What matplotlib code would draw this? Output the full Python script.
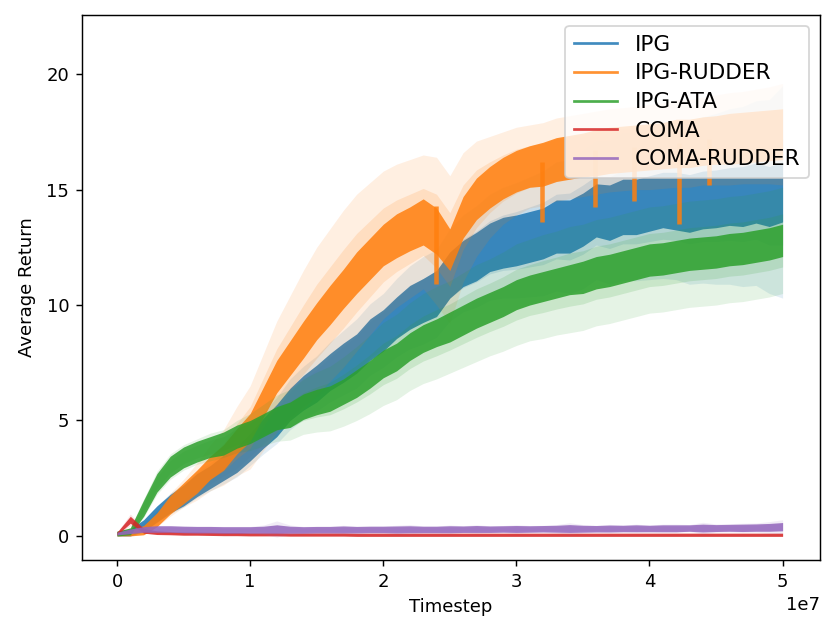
import numpy as np
import matplotlib
matplotlib.use("Agg")
import matplotlib.pyplot as plt
from matplotlib.lines import Line2D

# timesteps, one sample every 1e6 steps
steps = np.arange(51) * 1e6

labels = ["IPG", "IPG-RUDDER", "IPG-ATA", "COMA", "COMA-RUDDER"]
colors = ["tab:blue", "tab:orange", "tab:green", "tab:red", "tab:purple"]

# mean return
ipg = [0.10, 0.15, 0.45, 0.95, 1.40, 1.75, 2.20, 2.55, 2.95, 3.30,
       3.85, 4.45, 5.00, 5.70, 6.20, 6.60, 7.10, 7.50, 7.90, 8.50,
       8.90, 9.45, 9.90, 10.2, 10.5, 11.3, 11.8, 12.1, 12.5, 12.7,
       12.8, 12.95, 13.1, 13.4, 13.4, 13.7, 14.1, 14.0, 14.25, 14.25,
       14.4, 14.55, 14.5, 14.4, 14.55, 14.6, 14.7, 14.7, 14.85, 14.7,
       14.9]
ipg_rudder = [0.10, 0.12, 0.25, 0.70, 1.35, 1.85, 2.35, 2.95, 3.40, 4.10,
              4.70, 5.80, 6.90, 7.70, 8.50, 9.30, 10.0, 10.7, 11.4, 12.0,
              12.6, 13.0, 13.3, 13.6, 13.2, 12.4, 13.8, 14.6, 15.1, 15.5,
              15.8, 16.0, 16.1, 16.3, 16.4, 16.5, 16.6, 16.7, 16.75, 16.8,
              16.85, 16.9, 17.0, 17.0, 17.1, 17.15, 17.2, 17.25, 17.3, 17.35,
              17.4]
ipg_ata = [0.10, 0.20, 1.20, 2.30, 3.00, 3.40, 3.65, 3.85, 4.00, 4.30,
           4.50, 4.80, 5.10, 5.25, 5.60, 5.80, 5.95, 6.25, 6.60, 7.00,
           7.45, 7.75, 8.20, 8.55, 8.80, 9.05, 9.35, 9.65, 9.90, 10.15,
           10.45, 10.65, 10.8, 10.95, 11.1, 11.2, 11.4, 11.5, 11.65, 11.8,
           11.95, 12.0, 12.1, 12.2, 12.25, 12.3, 12.4, 12.45, 12.55, 12.65,
           12.8]
coma = [0.10, 0.70, 0.22, 0.14, 0.12, 0.10, 0.10, 0.09, 0.08, 0.08,
        0.07, 0.07, 0.07, 0.06, 0.06, 0.06, 0.06, 0.06, 0.05, 0.05,
        0.05, 0.05, 0.05, 0.05, 0.05, 0.05, 0.05, 0.05, 0.05, 0.05,
        0.05, 0.05, 0.05, 0.05, 0.05, 0.05, 0.05, 0.05, 0.05, 0.05,
        0.05, 0.05, 0.05, 0.05, 0.05, 0.05, 0.05, 0.05, 0.05, 0.05,
        0.05]
coma_rudder = [0.10, 0.20, 0.28, 0.30, 0.30, 0.28, 0.27, 0.27, 0.26, 0.26,
               0.26, 0.27, 0.30, 0.27, 0.26, 0.27, 0.27, 0.28, 0.27, 0.28,
               0.28, 0.28, 0.29, 0.28, 0.28, 0.29, 0.29, 0.30, 0.29, 0.30,
               0.30, 0.30, 0.31, 0.31, 0.32, 0.31, 0.31, 0.32, 0.32, 0.33,
               0.32, 0.33, 0.33, 0.34, 0.34, 0.34, 0.35, 0.35, 0.36, 0.37,
               0.40]

# standard deviation across runs (light band)
ipg_std = [0.10, 0.15, 0.25, 0.35, 0.45, 0.50, 0.55, 0.60, 0.70, 0.75,
           0.80, 0.90, 1.00, 1.10, 1.15, 1.20, 1.30, 1.40, 1.50, 1.55,
           1.60, 1.70, 1.80, 1.90, 1.90, 2.00, 2.10, 2.20, 2.30, 2.40,
           2.50, 2.60, 2.70, 2.80, 2.90, 3.00, 3.00, 3.10, 3.20, 3.20,
           3.30, 3.40, 3.40, 3.50, 3.60, 3.70, 3.80, 3.90, 4.00, 4.20,
           4.60]
ipg_rudder_std = [0.10, 0.10, 0.20, 0.30, 0.50, 0.60, 0.80, 1.00, 1.20, 1.50,
                  1.80, 2.10, 2.40, 2.70, 3.00, 3.20, 3.30, 3.40, 3.40, 3.30,
                  3.20, 3.10, 3.00, 2.90, 3.20, 3.20, 2.80, 2.50, 2.20, 2.00,
                  1.90, 1.80, 1.80, 1.80, 1.80, 1.80, 1.80, 1.80, 1.80, 1.80,
                  1.85, 1.85, 1.90, 1.90, 1.90, 1.95, 2.00, 2.00, 2.05, 2.10,
                  2.20]
ipg_ata_std = [0.10, 0.15, 0.40, 0.50, 0.55, 0.55, 0.55, 0.60, 0.60, 0.70,
               0.80, 0.90, 1.00, 1.10, 1.20, 1.30, 1.40, 1.50, 1.60, 1.70,
               1.80, 1.85, 1.90, 1.95, 2.00, 2.00, 2.05, 2.10, 2.10, 2.15,
               2.20, 2.20, 2.25, 2.25, 2.30, 2.30, 2.30, 2.30, 2.30, 2.30,
               2.30, 2.30, 2.30, 2.30, 2.30, 2.30, 2.30, 2.30, 2.30, 2.30,
               2.30]
coma_std = [0.05, 0.25, 0.10, 0.06, 0.05, 0.05, 0.05, 0.05, 0.05, 0.05,
            0.05, 0.05, 0.05, 0.05, 0.05, 0.05, 0.05, 0.05, 0.05, 0.05,
            0.05, 0.05, 0.05, 0.05, 0.05, 0.05, 0.05, 0.05, 0.05, 0.05,
            0.05, 0.05, 0.05, 0.05, 0.05, 0.05, 0.05, 0.05, 0.05, 0.05,
            0.05, 0.05, 0.05, 0.05, 0.05, 0.05, 0.05, 0.05, 0.05, 0.05,
            0.05]
coma_rudder_std = [0.05, 0.10, 0.15, 0.15, 0.15, 0.15, 0.15, 0.15, 0.15, 0.15,
                   0.15, 0.20, 0.35, 0.20, 0.15, 0.15, 0.15, 0.18, 0.15, 0.15,
                   0.15, 0.18, 0.20, 0.15, 0.15, 0.18, 0.15, 0.18, 0.15, 0.15,
                   0.18, 0.15, 0.15, 0.18, 0.25, 0.18, 0.15, 0.18, 0.15, 0.18,
                   0.15, 0.18, 0.18, 0.15, 0.25, 0.18, 0.18, 0.20, 0.20, 0.25,
                   0.30]

# half height of the noisy mean curve itself
ipg_spread = [0.10, 0.15, 0.25, 0.35, 0.40, 0.45, 0.50, 0.50, 0.55, 0.55,
              0.60, 0.65, 0.70, 0.70, 0.75, 0.80, 0.80, 0.85, 0.85, 0.90,
              0.90, 0.90, 0.95, 0.95, 1.00, 1.00, 1.00, 1.05, 1.05, 1.10,
              1.10, 1.10, 1.10, 1.15, 1.15, 1.15, 1.15, 1.20, 1.20, 1.20,
              1.20, 1.20, 1.25, 1.25, 1.25, 1.25, 1.25, 1.30, 1.30, 1.30,
              1.30]
ipg_rudder_spread = [0.10, 0.12, 0.20, 0.30, 0.40, 0.45, 0.50, 0.50, 0.55, 0.55,
                     0.60, 0.65, 0.70, 0.75, 0.80, 0.80, 0.85, 0.85, 0.90, 0.90,
                     0.90, 0.95, 0.95, 1.00, 1.00, 0.90, 0.90, 0.90, 0.90, 0.90,
                     0.90, 0.90, 0.95, 0.95, 0.95, 0.95, 1.00, 1.00, 1.00, 1.00,
                     1.00, 1.00, 1.05, 1.05, 1.05, 1.05, 1.10, 1.10, 1.10, 1.10,
                     1.10]
ipg_ata_spread = [0.10, 0.15, 0.35, 0.40, 0.45, 0.45, 0.45, 0.45, 0.50, 0.50,
                  0.50, 0.50, 0.50, 0.55, 0.55, 0.55, 0.55, 0.55, 0.60, 0.60,
                  0.60, 0.60, 0.60, 0.60, 0.60, 0.65, 0.65, 0.65, 0.65, 0.65,
                  0.65, 0.65, 0.65, 0.65, 0.65, 0.70, 0.70, 0.70, 0.70, 0.70,
                  0.70, 0.70, 0.70, 0.70, 0.70, 0.70, 0.70, 0.70, 0.70, 0.70,
                  0.70]
coma_spread = [0.06, 0.15, 0.10, 0.08, 0.07, 0.07, 0.07, 0.07, 0.07, 0.07,
               0.07, 0.07, 0.07, 0.07, 0.07, 0.07, 0.07, 0.07, 0.07, 0.07,
               0.07, 0.07, 0.07, 0.07, 0.07, 0.07, 0.07, 0.07, 0.07, 0.07,
               0.07, 0.07, 0.07, 0.07, 0.07, 0.07, 0.07, 0.07, 0.07, 0.07,
               0.07, 0.07, 0.07, 0.07, 0.07, 0.07, 0.07, 0.07, 0.07, 0.07,
               0.07]
coma_rudder_spread = [0.06, 0.10, 0.12, 0.14, 0.14, 0.14, 0.14, 0.14, 0.14, 0.14,
                      0.14, 0.15, 0.18, 0.15, 0.14, 0.14, 0.14, 0.15, 0.14, 0.14,
                      0.14, 0.15, 0.15, 0.14, 0.14, 0.15, 0.14, 0.15, 0.14, 0.14,
                      0.15, 0.14, 0.14, 0.15, 0.17, 0.15, 0.14, 0.15, 0.14, 0.15,
                      0.14, 0.15, 0.15, 0.14, 0.17, 0.15, 0.15, 0.16, 0.16, 0.17,
                      0.18]

# single-step drops of the IPG-RUDDER curve
drop_x = [2.40e7, 3.19e7, 3.59e7, 3.88e7, 4.22e7, 4.45e7]
drop_top = [14.3, 16.2, 16.7, 16.85, 17.0, 17.2]
drop_bottom = [10.9, 13.6, 14.25, 14.5, 13.5, 15.2]

means = [ipg, ipg_rudder, ipg_ata, coma, coma_rudder]
stds = [ipg_std, ipg_rudder_std, ipg_ata_std, coma_std, coma_rudder_std]
spreads = [ipg_spread, ipg_rudder_spread, ipg_ata_spread, coma_spread,
           coma_rudder_spread]

fig = plt.figure(figsize=(830 / 130, 637 / 130), dpi=130)
ax = fig.add_axes([0.0988, 0.121, 0.889, 0.855])

handles = []
for m, s, w, c, lab in zip(means, stds, spreads, colors, labels):
    m = np.array(m)
    s = np.array(s)
    w = np.array(w)
    # fading band: outer full std, inner half std
    ax.fill_between(steps, m - s, m + s, color=c, alpha=0.12, lw=0)
    ax.fill_between(steps, m - s / 2, m + s / 2, color=c, alpha=0.15, lw=0)
    ax.fill_between(steps, m - w, m + w, color=c, alpha=0.85, lw=0)
    if lab == "IPG-RUDDER":
        ax.vlines(drop_x, drop_bottom, drop_top, color=c, alpha=0.85, lw=2.5)
    handles.append(Line2D([], [], color=c, alpha=0.85, lw=1.5, label=lab))

ax.set_xlim(-0.263e7, 5.28e7)
ax.set_ylim(-1.04, 22.55)
ax.set_xlabel("Timestep")
ax.set_ylabel("Average Return", labelpad=6)
ax.legend(handles=handles, loc="upper right", fontsize=12, labelspacing=0.4)

fig.savefig("out.png", dpi=130)
